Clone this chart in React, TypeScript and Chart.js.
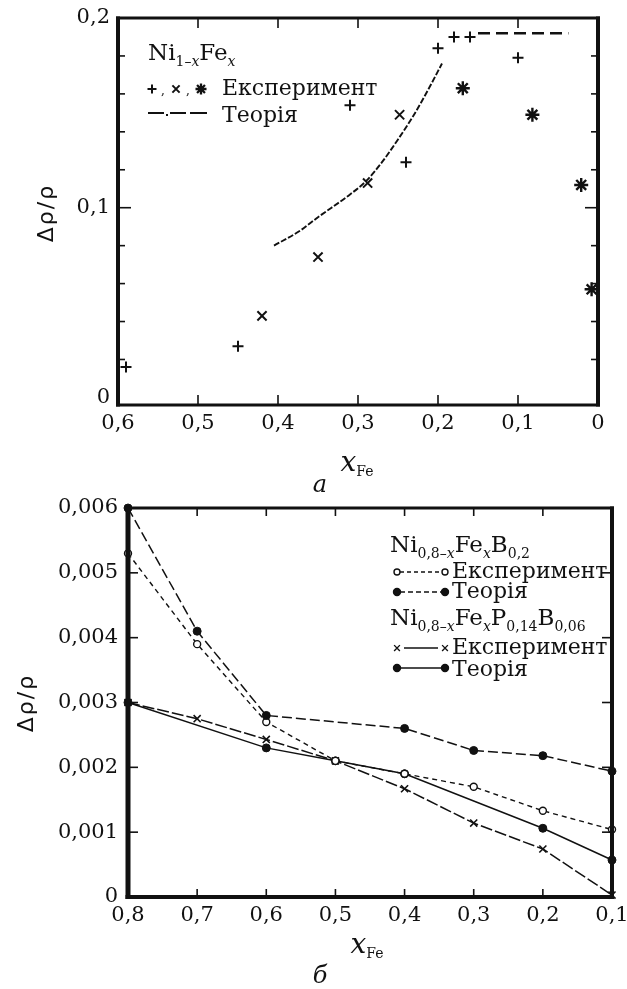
import React, { useEffect, useRef } from 'react';
import { Chart, registerables } from 'chart.js';

Chart.register(...registerables);

// ---------- Panel а: Ni(1−x)Fe(x) ----------
const A_X_TICKS = [0, 0.1, 0.2, 0.3, 0.4, 0.5, 0.6];
const A_Y_TICKS = [0, 0.1, 0.2];

// experiment, three sample series (+, ×, ✱)
const A_PLUS_X = [0.59, 0.45, 0.31, 0.24, 0.2, 0.18, 0.16, 0.1];
const A_PLUS_Y = [0.016, 0.027, 0.154, 0.124, 0.184, 0.19, 0.19, 0.179];
const A_CROSS_X = [0.42, 0.35, 0.288, 0.248];
const A_CROSS_Y = [0.043, 0.074, 0.113, 0.149];
const A_STAR_X = [0.169, 0.082, 0.021, 0.008];
const A_STAR_Y = [0.163, 0.149, 0.112, 0.057];

// theory: curve and plateau
const A_THEORY_X = [0.405, 0.372, 0.35, 0.31, 0.29, 0.27, 0.25, 0.23, 0.21, 0.195];
const A_THEORY_Y = [0.08, 0.088, 0.095, 0.107, 0.114, 0.124, 0.136, 0.149, 0.164, 0.176];
const A_PLATEAU_X = [0.15, 0.037];
const A_PLATEAU_Y = [0.192, 0.192];

// ---------- Panel б: Ni(0,8−x)Fe(x)B(0,2) and Ni(0,8−x)Fe(x)P(0,14)B(0,06) ----------
const B_X_TICKS = [0.1, 0.2, 0.3, 0.4, 0.5, 0.6, 0.7, 0.8];
const B_Y_TICKS = [0, 0.001, 0.002, 0.003, 0.004, 0.005, 0.006];

const B_EXP_X = [0.8, 0.7, 0.6, 0.5, 0.4, 0.3, 0.2, 0.1];
const B_EXP_Y = [0.0053, 0.0039, 0.0027, 0.0021, 0.0019, 0.0017, 0.00133, 0.00104];
const B_THEORY_X = [0.8, 0.7, 0.6, 0.4, 0.3, 0.2, 0.1];
const B_THEORY_Y = [0.006, 0.0041, 0.0028, 0.0026, 0.00226, 0.00218, 0.00194];

const PB_EXP_X = [0.8, 0.7, 0.6, 0.5, 0.4, 0.3, 0.2, 0.1];
const PB_EXP_Y = [0.003, 0.00275, 0.00243, 0.0021, 0.00167, 0.00114, 0.00074, 0.00003];
const PB_THEORY_X = [0.8, 0.6, 0.5, 0.4, 0.2, 0.1];
const PB_THEORY_Y = [0.003, 0.0023, 0.0021, 0.0019, 0.00106, 0.00057];

const SERIF = '"DejaVu Serif", "Liberation Serif", serif';
const SANS = '"DejaVu Sans", sans-serif';
const INK = '#111';

// vertical offset of the lower canvas on the page
const B_TOP = 486;

const pts = (xs: number[], ys: number[]) => xs.map((x, i) => ({ x, y: ys[i] }));
const comma = (digits: number) => (v: number | string) => {
  const n = Number(v);
  return n === 0 ? '0' : n.toFixed(digits).replace('.', ',');
};

type Run = { t: string; size: number; italic?: boolean; dy?: number; family?: string };
const fontOf = (r: Run) => `${r.italic ? 'italic ' : ''}${r.size}px ${r.family ?? SERIF}`;

function runsWidth(ctx: CanvasRenderingContext2D, runs: Run[]) {
  let w = 0;
  for (const r of runs) {
    ctx.font = fontOf(r);
    w += ctx.measureText(r.t).width;
  }
  return w;
}

function drawRuns(ctx: CanvasRenderingContext2D, x: number, y: number, runs: Run[]) {
  ctx.textAlign = 'left';
  ctx.textBaseline = 'alphabetic';
  ctx.fillStyle = INK;
  let cx = x;
  for (const r of runs) {
    ctx.font = fontOf(r);
    ctx.fillText(r.t, cx, y + (r.dy ?? 0));
    cx += ctx.measureText(r.t).width;
  }
  return cx;
}

const word = (t: string): Run => ({ t, size: 22 });
const big = (t: string): Run => ({ t, size: 23 });
const sub = (t: string, italic = false): Run => ({ t, size: 14, italic, dy: 6 });

function mark(ctx: CanvasRenderingContext2D, kind: string, x: number, y: number, r: number) {
  ctx.save();
  ctx.strokeStyle = INK;
  ctx.fillStyle = INK;
  ctx.beginPath();
  if (kind === 'plus' || kind === 'star') {
    ctx.moveTo(x - r, y); ctx.lineTo(x + r, y);
    ctx.moveTo(x, y - r); ctx.lineTo(x, y + r);
  }
  if (kind === 'cross' || kind === 'star') {
    const d = r * 0.72;
    ctx.moveTo(x - d, y - d); ctx.lineTo(x + d, y + d);
    ctx.moveTo(x - d, y + d); ctx.lineTo(x + d, y - d);
  }
  if (kind === 'dot' || kind === 'ring') {
    ctx.arc(x, y, r, 0, Math.PI * 2);
    ctx.fillStyle = kind === 'dot' ? INK : '#fff';
    ctx.fill();
  }
  ctx.stroke();
  ctx.restore();
}

function seg(ctx: CanvasRenderingContext2D, x1: number, y1: number, x2: number, y2: number) {
  ctx.beginPath();
  ctx.moveTo(x1, y1);
  ctx.lineTo(x2, y2);
  ctx.stroke();
}

type Frame = {
  xTicks: number[];
  xLen: number;
  yTicks: { v: number; len: number }[];
  w: { l: number; t: number; r: number; b: number };
};

function drawFrame(chart: any, f: Frame) {
  const { ctx, chartArea: a, scales } = chart;
  const sx = scales.x;
  const sy = scales.y;
  ctx.save();
  ctx.strokeStyle = INK;
  ctx.fillStyle = INK;
  ctx.lineWidth = 1.6;
  for (const v of f.xTicks) {
    const px = sx.getPixelForValue(v);
    seg(ctx, px, a.bottom, px, a.bottom - f.xLen);
    seg(ctx, px, a.top, px, a.top + f.xLen);
  }
  for (const t of f.yTicks) {
    const py = sy.getPixelForValue(t.v);
    seg(ctx, a.left, py, a.left + t.len, py);
    seg(ctx, a.right, py, a.right - t.len, py);
  }
  const { l, t, r, b } = f.w;
  const W = a.right - a.left;
  const H = a.bottom - a.top;
  ctx.fillRect(a.left - l / 2, a.top - t / 2, W + l / 2 + r / 2, t);
  ctx.fillRect(a.left - l / 2, a.bottom - b / 2, W + l / 2 + r / 2, b);
  ctx.fillRect(a.left - l / 2, a.top - t / 2, l, H + t / 2 + b / 2);
  ctx.fillRect(a.right - r / 2, a.top - t / 2, r, H + t / 2 + b / 2);
  ctx.restore();
}

function drawYTitle(ctx: CanvasRenderingContext2D, x: number, y: number) {
  ctx.save();
  ctx.translate(x, y);
  ctx.rotate(-Math.PI / 2);
  ctx.fillStyle = INK;
  ctx.font = `22px ${SANS}`;
  (ctx as any).letterSpacing = '2px';
  ctx.textAlign = 'center';
  ctx.textBaseline = 'middle';
  ctx.fillText('Δρ/ρ', 0, 0);
  ctx.restore();
}

function drawXTitle(ctx: CanvasRenderingContext2D, cx: number, base: number) {
  const runs: Run[] = [
    { t: 'x', size: 28, italic: true },
    { t: 'Fe', size: 14, dy: 5 },
  ];
  const w = runsWidth(ctx, runs);
  drawRuns(ctx, cx - w / 2, base, runs);
}

function drawPanelLetter(ctx: CanvasRenderingContext2D, t: string, cx: number, base: number) {
  ctx.save();
  ctx.fillStyle = INK;
  ctx.font = `italic 24px ${SERIF}`;
  ctx.textAlign = 'center';
  ctx.textBaseline = 'alphabetic';
  ctx.fillText(t, cx, base);
  ctx.restore();
}

function scalesFor(o: {
  xMin: number; xMax: number; xTicks: number[]; xFmt: (v: any) => string; xHeight: number;
  yMin: number; yMax: number; yTicks: number[]; yFmt: (v: any) => string; yWidth: number; yPad: number;
}) {
  const tickFont = { family: SERIF, size: 21 };
  return {
    x: {
      type: 'linear',
      reverse: true,
      min: o.xMin,
      max: o.xMax,
      grid: { display: false, drawTicks: false },
      border: { display: false },
      ticks: { color: INK, font: tickFont, padding: 6, maxRotation: 0, autoSkip: false, callback: o.xFmt },
      afterBuildTicks: (s: any) => { s.ticks = o.xTicks.map((value) => ({ value })); },
      afterFit: (s: any) => { s.height = o.xHeight; s.paddingLeft = 0; s.paddingRight = 0; },
    },
    y: {
      type: 'linear',
      min: o.yMin,
      max: o.yMax,
      grid: { display: false, drawTicks: false },
      border: { display: false },
      ticks: { color: INK, font: tickFont, padding: o.yPad, autoSkip: false, callback: o.yFmt },
      afterBuildTicks: (s: any) => { s.ticks = o.yTicks.map((value) => ({ value })); },
      afterFit: (s: any) => { s.width = o.yWidth; s.paddingTop = 0; s.paddingBottom = 0; },
    },
  };
}

function configA(): any {
  const minorY: { v: number; len: number }[] = [];
  for (let i = 1; i < 10; i++) minorY.push({ v: i * 0.02, len: i === 5 ? 13 : 7 });
  const frame: Frame = {
    xTicks: [0.1, 0.2, 0.3, 0.4, 0.5],
    xLen: 10,
    yTicks: minorY,
    w: { l: 4, t: 3, r: 4, b: 3 },
  };
  return {
    type: 'scatter',
    data: {
      datasets: [
        {
          data: pts(A_THEORY_X, A_THEORY_Y), showLine: true, pointRadius: 0,
          borderColor: INK, borderWidth: 1.9, borderDash: [6, 2],
          cubicInterpolationMode: 'monotone',
        },
        {
          data: pts(A_PLATEAU_X, A_PLATEAU_Y), showLine: true, pointRadius: 0,
          borderColor: INK, borderWidth: 2.6, borderDash: [12, 6],
        },
        {
          data: pts(A_PLUS_X, A_PLUS_Y), pointStyle: 'cross', pointRadius: 5.5,
          pointBorderWidth: 2, pointBorderColor: INK, pointBackgroundColor: INK,
        },
        {
          data: pts(A_CROSS_X, A_CROSS_Y), pointStyle: 'crossRot', pointRadius: 6.5,
          pointBorderWidth: 2, pointBorderColor: INK, pointBackgroundColor: INK,
        },
        {
          data: pts(A_STAR_X, A_STAR_Y), pointStyle: 'star', pointRadius: 7,
          pointBorderWidth: 2.4, pointBorderColor: INK, pointBackgroundColor: INK,
        },
      ],
    },
    options: {
      responsive: false,
      animation: false,
      events: [],
      clip: false,
      layout: { padding: { left: 0, top: 18, right: 29, bottom: 0 } },
      plugins: { legend: { display: false }, tooltip: { enabled: false } },
      scales: scalesFor({
        xMin: 0, xMax: 0.6, xTicks: A_X_TICKS, xFmt: comma(1), xHeight: 95,
        yMin: -0.004, yMax: 0.2, yTicks: A_Y_TICKS, yFmt: comma(1), yWidth: 118, yPad: 8,
      }),
    },
    plugins: [
      {
        id: 'panelA',
        afterDraw(chart: any) {
          const ctx = chart.ctx as CanvasRenderingContext2D;
          drawFrame(chart, frame);
          // legend
          drawRuns(ctx, 148, 60, [big('Ni'), sub('1–'), sub('x', true), big('Fe'), sub('x', true)]);
          ctx.save();
          ctx.lineWidth = 2;
          mark(ctx, 'plus', 152, 89, 4.5);
          mark(ctx, 'cross', 176, 89, 5);
          ctx.lineWidth = 2.3;
          mark(ctx, 'star', 201, 89, 5.5);
          ctx.restore();
          drawRuns(ctx, 161, 94, [{ t: ',', size: 12 }]);
          drawRuns(ctx, 186, 94, [{ t: ',', size: 12 }]);
          drawRuns(ctx, 222, 95, [word('Експеримент')]);
          ctx.save();
          ctx.strokeStyle = INK;
          ctx.lineWidth = 2;
          seg(ctx, 148, 113, 164, 113);
          seg(ctx, 170, 113, 186, 113);
          seg(ctx, 190, 113, 207, 113);
          ctx.fillStyle = INK;
          ctx.fillRect(166, 114, 2, 2);
          ctx.restore();
          drawRuns(ctx, 222, 122, [word('Теорія')]);
          // axis titles
          drawYTitle(ctx, 47, 213);
          drawXTitle(ctx, 357, 471);
          drawPanelLetter(ctx, 'а', 320, 492);
        },
      },
    ],
  };
}

function configB(): any {
  const yT = [0.001, 0.002, 0.003, 0.004, 0.005].map((v) => ({ v, len: 10 }));
  const frame: Frame = {
    xTicks: [0.2, 0.3, 0.4, 0.5, 0.6, 0.7],
    xLen: 8,
    yTicks: yT,
    w: { l: 5, t: 3, r: 4, b: 4 },
  };
  return {
    type: 'scatter',
    data: {
      datasets: [
        {
          data: pts(B_THEORY_X, B_THEORY_Y), showLine: true, borderColor: INK, borderWidth: 1.5,
          borderDash: [10, 4], pointStyle: 'circle', pointRadius: 4, pointBorderWidth: 1,
          pointBorderColor: INK, pointBackgroundColor: INK,
        },
        {
          data: pts(B_EXP_X, B_EXP_Y), showLine: true, borderColor: INK, borderWidth: 1.4,
          borderDash: [5, 4], pointStyle: 'circle', pointRadius: 3.5, pointBorderWidth: 1.4,
          pointBorderColor: INK, pointBackgroundColor: '#fff',
        },
        {
          data: pts(PB_EXP_X, PB_EXP_Y), showLine: true, borderColor: INK, borderWidth: 1.5,
          borderDash: [12, 3], pointStyle: 'crossRot', pointRadius: 5, pointBorderWidth: 1.6,
          pointBorderColor: INK, pointBackgroundColor: INK,
        },
        {
          data: pts(PB_THEORY_X, PB_THEORY_Y), showLine: true, borderColor: INK, borderWidth: 1.5,
          pointStyle: 'circle', pointRadius: 4, pointBorderWidth: 1,
          pointBorderColor: INK, pointBackgroundColor: INK,
        },
      ],
    },
    options: {
      responsive: false,
      animation: false,
      events: [],
      clip: false,
      layout: { padding: { left: 0, top: 508 - B_TOP, right: 15, bottom: 0 } },
      plugins: { legend: { display: false }, tooltip: { enabled: false } },
      scales: scalesFor({
        xMin: 0.1, xMax: 0.8, xTicks: B_X_TICKS, xFmt: comma(1), xHeight: 989 - B_TOP - (897 - B_TOP),
        yMin: 0, yMax: 0.006, yTicks: B_Y_TICKS, yFmt: comma(3), yWidth: 128, yPad: 10,
      }),
    },
    plugins: [
      {
        id: 'panelB',
        afterDraw(chart: any) {
          const ctx = chart.ctx as CanvasRenderingContext2D;
          drawFrame(chart, frame);
          // legend and titles are laid out in page coordinates
          ctx.save();
          ctx.translate(0, -B_TOP);
          drawRuns(ctx, 390, 552, [
            big('Ni'), sub('0,8–'), sub('x', true), big('Fe'), sub('x', true), big('B'), sub('0,2'),
          ]);
          ctx.save();
          ctx.strokeStyle = INK;
          ctx.lineWidth = 1.4;
          ctx.setLineDash([4, 3]);
          seg(ctx, 400, 572, 442, 572);
          ctx.setLineDash([5, 3]);
          seg(ctx, 400, 592, 442, 592);
          ctx.setLineDash([]);
          mark(ctx, 'ring', 397, 572, 3);
          mark(ctx, 'ring', 445, 572, 3);
          mark(ctx, 'dot', 397, 592, 3.5);
          mark(ctx, 'dot', 445, 592, 3.5);
          ctx.restore();
          drawRuns(ctx, 452, 578, [word('Експеримент')]);
          drawRuns(ctx, 452, 598, [word('Теорія')]);

          drawRuns(ctx, 390, 625, [
            big('Ni'), sub('0,8–'), sub('x', true), big('Fe'), sub('x', true),
            big('P'), sub('0,14'), big('B'), sub('0,06'),
          ]);
          ctx.save();
          ctx.strokeStyle = INK;
          ctx.lineWidth = 1.4;
          seg(ctx, 404, 648, 438, 648);
          seg(ctx, 400, 668, 442, 668);
          mark(ctx, 'cross', 397, 648, 4);
          mark(ctx, 'cross', 445, 648, 4);
          mark(ctx, 'dot', 397, 668, 3.5);
          mark(ctx, 'dot', 445, 668, 3.5);
          ctx.restore();
          drawRuns(ctx, 452, 654, [word('Експеримент')]);
          drawRuns(ctx, 452, 676, [word('Теорія')]);
          // axis titles
          drawYTitle(ctx, 27, 703);
          drawXTitle(ctx, 367, 953);
          drawPanelLetter(ctx, 'б', 320, 983);
          ctx.restore();
        },
      },
    ],
  };
}

export default function App() {
  const refA = useRef<HTMLCanvasElement>(null);
  const refB = useRef<HTMLCanvasElement>(null);

  useEffect(() => {
    const a = new Chart(refA.current as HTMLCanvasElement, configA());
    const b = new Chart(refB.current as HTMLCanvasElement, configB());
    return () => {
      a.destroy();
      b.destroy();
    };
  }, []);

  return (
    <div style={{ position: 'absolute', left: 0, top: 0, width: 627, height: 989, background: '#fff' }}>
      <canvas ref={refA} width={627} height={500} style={{ position: 'absolute', left: 0, top: 0 }} />
      <canvas ref={refB} width={627} height={989 - B_TOP} style={{ position: 'absolute', left: 0, top: B_TOP }} />
    </div>
  );
}
